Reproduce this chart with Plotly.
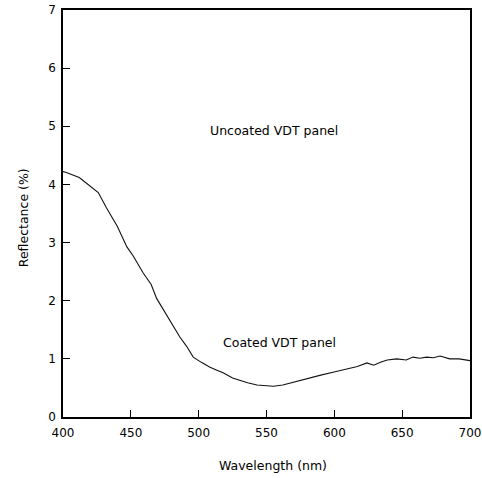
import plotly.graph_objects as go

# Reflectance spectrum of the coated VDT panel
wavelength = [400, 402, 412, 420, 426, 432, 440, 447, 452, 459, 465, 469, 474, 479, 486, 491,
              496, 502, 508, 513, 518, 525, 530, 536, 543, 548, 555, 562, 567, 574, 580, 590, 599,
              608, 617, 624, 629, 634, 639, 646, 653, 658, 663, 668, 673, 678, 685, 692, 700]
reflectance = [4.22, 4.21, 4.12, 3.97, 3.86, 3.60, 3.28, 2.93, 2.76, 2.48, 2.28, 2.04, 1.85, 1.67, 1.38, 1.22,
               1.03, 0.94, 0.86, 0.81, 0.76, 0.67, 0.63, 0.59, 0.55, 0.54, 0.53, 0.55, 0.58, 0.63, 0.67, 0.72, 0.77,
               0.82, 0.87, 0.93, 0.89, 0.94, 0.98, 1.00, 0.98, 1.03, 1.01, 1.03, 1.02, 1.05, 1.00, 1.00, 0.97]

x_ticks = [400, 450, 500, 550, 600, 650, 700]
y_ticks = [0, 1, 2, 3, 4, 5, 6, 7]

font = "DejaVu Sans, Arial, sans-serif"

fig = go.Figure()
fig.add_trace(go.Scatter(
    x=wavelength, y=reflectance, mode="lines",
    line=dict(color="#111111", width=1.1), hoverinfo="skip", showlegend=False,
))

axis_style = dict(
    ticks="inside", ticklen=7, tickwidth=1.2, tickcolor="black",
    showline=True, linecolor="black", linewidth=1.5, mirror=True,
    showgrid=False, zeroline=False, tickfont=dict(size=12),
)

fig.update_layout(
    width=482, height=478,
    margin=dict(l=63, r=12, t=10, b=61, autoexpand=False),
    paper_bgcolor="white", plot_bgcolor="white",
    font=dict(family=font, size=12, color="black"),
    showlegend=False,
    xaxis=dict(range=[400, 700], tickvals=x_ticks, ticklabelstandoff=4,
               ticktext=[str(v) for v in x_ticks], **axis_style),
    yaxis=dict(range=[0, 7], tickvals=y_ticks, ticklabelstandoff=3,
               ticktext=[str(v) for v in y_ticks], **axis_style),
    annotations=[
        dict(text="Uncoated VDT panel", x=555.5, y=4.93, xref="x", yref="y",
             showarrow=False, font=dict(size=12.5)),
        dict(text="Coated VDT panel", x=559.5, y=1.28, xref="x", yref="y",
             showarrow=False, font=dict(size=12.5)),
        dict(text="Wavelength (nm)", x=0.516, y=-0.12, xref="paper", yref="paper",
             yanchor="middle", showarrow=False, font=dict(size=12.5)),
        dict(text="Reflectance (%)", x=-0.12, y=0.49, xref="paper", yref="paper",
             textangle=-90, showarrow=False, font=dict(size=12.5)),
    ],
)

fig.write_html("out.html")
